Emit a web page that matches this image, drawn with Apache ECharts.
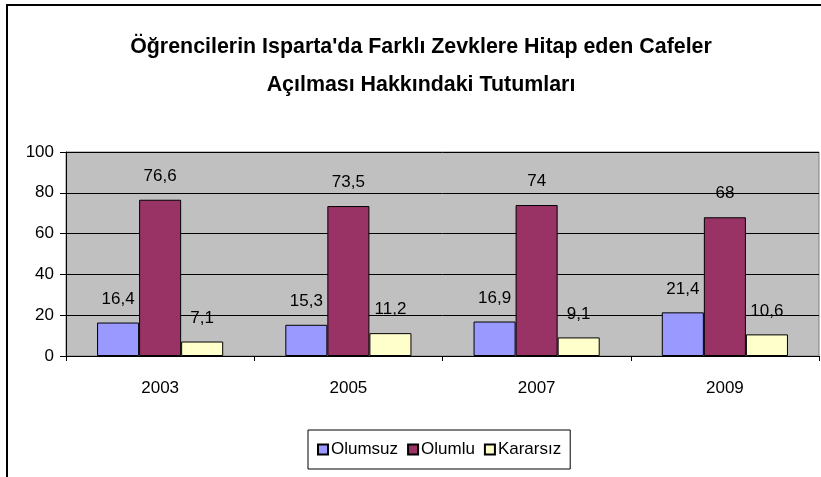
<!DOCTYPE html>
<html>
<head>
<meta charset="utf-8">
<script src="https://cdn.jsdelivr.net/npm/echarts@6/dist/echarts.min.js"></script>
<style>
html, body { margin: 0; padding: 0; background: #fff; }
#chart { width: 821px; height: 477px; }
</style>
</head>
<body>
<div id="chart"></div>
<script>
var years = ['2003', '2005', '2007', '2009'];
var olumsuz = [16.4, 15.3, 16.9, 21.4];
var olumlu = [76.6, 73.5, 74, 68];
var kararsiz = [7.1, 11.2, 9.1, 10.6];
var yTicks = [0, 20, 40, 60, 80, 100];

var FONT = '"Liberation Sans", Arial, sans-serif';

//Türkçe ondalık virgül
function fmt(p) {
	return String(p.value).replace('.', ',');
}

function barSeries(name, data, color) {
	return {
		name: name,
		type: 'bar',
		data: data,
		barGap: '0%',
		barCategoryGap: '33%',
		itemStyle: {
			color: color,
			borderColor: '#000',
			borderWidth: 1
		},
		label: {
			show: true,
			position: 'top',
			distance: 15,
			formatter: fmt,
			fontFamily: FONT,
			fontSize: 17,
			color: '#000'
		}
	};
}

var myChart = echarts.init(document.getElementById('chart'));
var option = {
	animation: false,
	backgroundColor: '#fff',
	title: {
		text: "Öğrencilerin Isparta'da Farklı Zevklere Hitap eden Cafeler\nAçılması Hakkındaki Tutumları",
		left: 416,
		textAlign: 'center',
		top: 23,
		textStyle: {
			fontFamily: FONT,
			fontWeight: 'bold',
			fontSize: 21.4,
			lineHeight: 38,
			color: '#000'
		}
	},
	graphic: [{
		type: 'rect',
		shape: { x: 7, y: 5, width: 900, height: 600 },
		style: { fill: 'none', stroke: '#000', lineWidth: 2 },
		z: 100
	}],
	legend: {
		data: ['Olumsuz', 'Olumlu', 'Kararsız'],
		left: 308,
		top: 430,
		icon: 'rect',
		itemWidth: 10,
		itemHeight: 10,
		itemGap: 9,
		padding: [11, 9],
		borderColor: '#000',
		borderWidth: 1,
		textStyle: {
			fontFamily: FONT,
			fontSize: 17,
			color: '#000',
			padding: [0, 0, 0, -2]
		}
	},
	grid: {
		show: true,
		left: 66,
		right: 2,
		top: 152,
		bottom: 121,
		backgroundColor: '#C0C0C0',
		borderColor: '#808080',
		borderWidth: 1
	},
	xAxis: {
		type: 'category',
		data: years,
		axisLine: { lineStyle: { color: '#000', width: 1 } },
		axisTick: { show: true, length: 5, lineStyle: { color: '#000' } },
		axisLabel: {
			margin: 24,
			fontFamily: FONT,
			fontSize: 17,
			color: '#000'
		}
	},
	yAxis: {
		type: 'value',
		min: yTicks[0],
		max: yTicks[yTicks.length - 1],
		interval: 20,
		axisLine: { show: true, lineStyle: { color: '#000', width: 1 } },
		axisTick: { show: true, length: 6, lineStyle: { color: '#000' } },
		axisLabel: {
			margin: 12,
			fontFamily: FONT,
			fontSize: 17,
			color: '#000'
		},
		splitLine: { show: true, lineStyle: { color: '#000', width: 1 } }
	},
	series: [
		barSeries('Olumsuz', olumsuz, '#9999FF'),
		barSeries('Olumlu', olumlu, '#993366'),
		barSeries('Kararsız', kararsiz, '#FFFFCC')
	]
};
myChart.setOption(option);
window.onresize = myChart.resize;
</script>
</body>
</html>
